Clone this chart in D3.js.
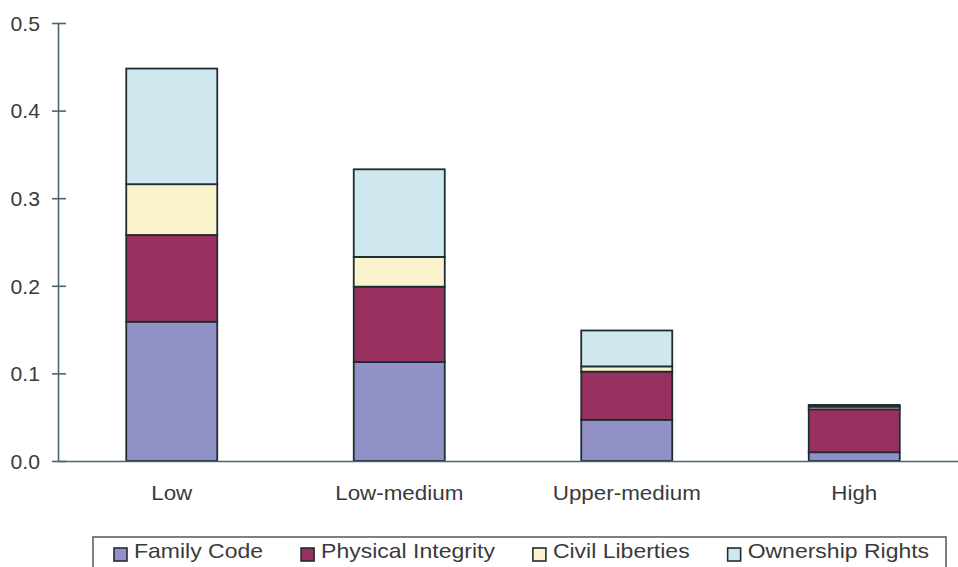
<!DOCTYPE html>
<html>
<head>
<meta charset="utf-8">
<script src="https://cdn.jsdelivr.net/npm/d3@7"></script>
<style>
  html, body { margin: 0; padding: 0; background: #ffffff; }
  svg { display: block; }
  text { font-family: "Liberation Sans", Arial, sans-serif; fill: #3a3a3a; }
</style>
</head>
<body>
<svg id="chart" width="958" height="567"></svg>
<script>
// ---- data ----
const categories = ["Low", "Low-medium", "Upper-medium", "High"];
const seriesNames = ["Family Code", "Physical Integrity", "Civil Liberties", "Ownership Rights"];
const familyCode = [0.159, 0.113, 0.047, 0.010];
const physicalIntegrity = [0.099, 0.086, 0.055, 0.049];
const civilLiberties = [0.058, 0.034, 0.006, 0.003];
const ownershipRights = [0.132, 0.100, 0.041, 0.002];
const yTicks = [0.0, 0.1, 0.2, 0.3, 0.4, 0.5];
const colors = ["#9191c7", "#98315f", "#fbf3cb", "#cfe8ef"];

// ---- build table for stack ----
const seriesValues = [familyCode, physicalIntegrity, civilLiberties, ownershipRights];
const table = categories.map((c, i) => {
  const row = { category: c };
  seriesNames.forEach((s, k) => row[s] = seriesValues[k][i]);
  return row;
});
const stacked = d3.stack().keys(seriesNames)(table);

const svg = d3.select("#chart");
const axisColor = "#4a6470";
const strokeColor = "#1e2c34";
const sx = 1.12; // horizontal text stretch

const x = d3.scaleBand().domain(categories).range([58, 968]).paddingInner(0.6).paddingOuter(0.3);
const y = d3.scaleLinear().domain([0, 0.5]).range([461, 23]);

// bars
const layers = svg.append("g").selectAll("g").data(stacked).join("g")
  .attr("fill", (d, i) => colors[i]);
layers.selectAll("rect").data(d => d).join("rect")
  .attr("x", d => x(d.data.category))
  .attr("y", d => y(d[1]))
  .attr("width", x.bandwidth())
  .attr("height", d => y(d[0]) - y(d[1]))
  .attr("stroke", strokeColor)
  .attr("stroke-width", 1.8);

// y axis
const yAxis = svg.append("g").attr("transform", "translate(58,0)")
  .call(d3.axisLeft(y).tickValues(yTicks).tickFormat(d3.format(".1f")).tickSizeOuter(0));
yAxis.select(".domain").attr("stroke", axisColor).attr("stroke-width", 1.6);
yAxis.selectAll(".tick line").attr("stroke", axisColor).attr("stroke-width", 1.6)
  .attr("x1", -6).attr("x2", 8);
yAxis.selectAll(".tick text")
  .attr("x", 0).attr("dy", "0.36em")
  .attr("transform", `translate(-18,0) scale(1.06,1)`)
  .style("font-size", "20px").style("font-family", "Liberation Sans, Arial, sans-serif")
  .attr("fill", "#3a3a3a");

// x axis
const xAxis = svg.append("g").attr("transform", "translate(0,461)")
  .call(d3.axisBottom(x).tickSize(0).tickSizeOuter(0));
xAxis.select(".domain").attr("stroke", axisColor).attr("stroke-width", 1.6);
xAxis.selectAll(".tick text")
  .attr("y", 39).attr("dy", 0)
  .attr("transform", `scale(${sx},1)`)
  .style("font-size", "20px").style("font-family", "Liberation Sans, Arial, sans-serif")
  .attr("fill", "#3a3a3a");

// legend
const legend = svg.append("g");
legend.append("rect")
  .attr("x", 93).attr("y", 537).attr("width", 853).attr("height", 45)
  .attr("fill", "#ffffff").attr("stroke", "#55636b").attr("stroke-width", 1.6);
let lx = 114;
const lsx = 1.15;
seriesNames.forEach((name, i) => {
  legend.append("rect")
    .attr("x", lx).attr("y", 548).attr("width", 13).attr("height", 13)
    .attr("fill", colors[i]).attr("stroke", strokeColor).attr("stroke-width", 1.6);
  const t = legend.append("text")
    .attr("transform", `translate(${lx + 20},558) scale(${lsx},1)`)
    .style("font-size", "20px")
    .text(name);
  const w = t.node().getComputedTextLength() * lsx;
  lx += 20 + w + 38;
});
</script>
</body>
</html>
